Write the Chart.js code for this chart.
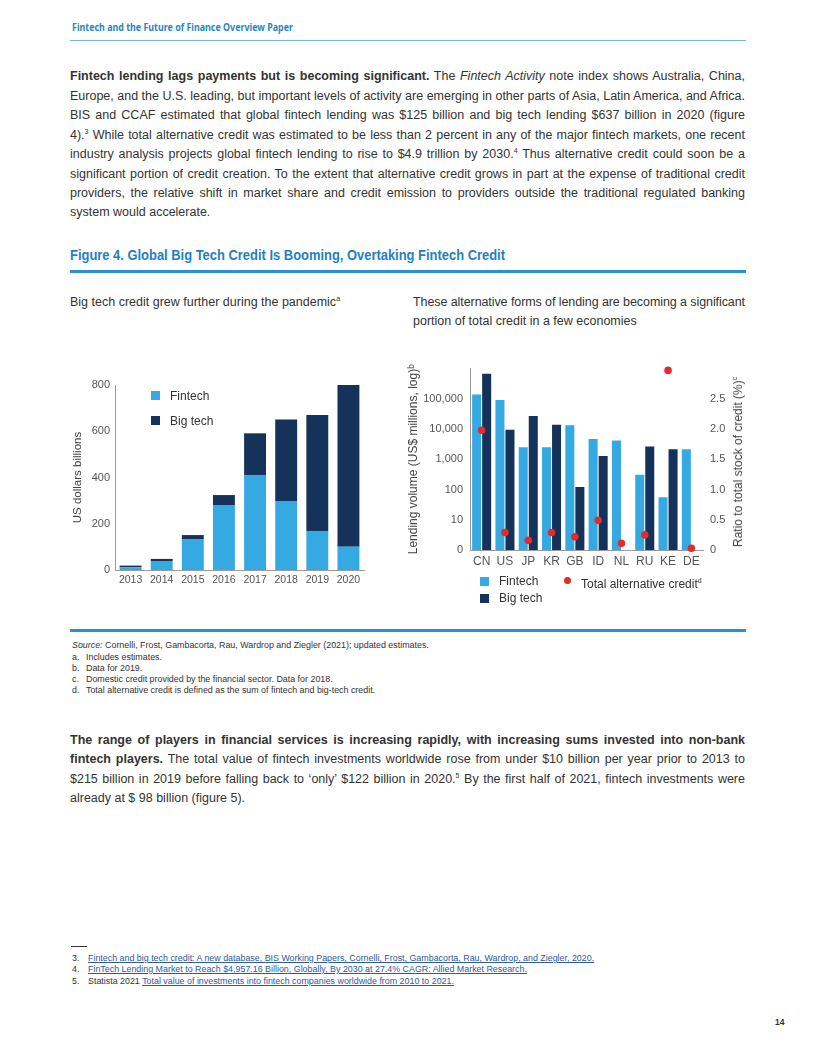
<!DOCTYPE html>
<html><head><meta charset="utf-8">
<script src="https://cdn.jsdelivr.net/npm/chart.js"></script>
<style>
html,body{margin:0;padding:0;background:#fff;}
body{width:816px;height:1056px;position:relative;overflow:hidden;font-family:"Liberation Sans",Arial,sans-serif;color:#333;}
.abs{position:absolute;white-space:nowrap;}
.ln{position:absolute;left:70px;white-space:nowrap;font-size:12.5px;line-height:19.5px;color:#333;}
.ln sup,.sub sup{font-size:7px;line-height:0;vertical-align:5px;}
.sub{position:absolute;white-space:nowrap;font-size:12.5px;line-height:19px;color:#333;}
.note{position:absolute;white-space:nowrap;font-size:8.9px;line-height:11px;color:#333;}
.note a{color:#2c5aa0;text-decoration:underline;}
.rule{position:absolute;left:70px;width:676px;}
.lg{position:absolute;white-space:nowrap;font-size:12px;line-height:14px;color:#333;}
.sq{position:absolute;width:9px;height:9px;}
canvas{position:absolute;}
</style>
</head><body>

<div class="abs" id="hdr" style="left:72px;top:19px;font:bold 11px 'Noto Sans',sans-serif;color:#2b86c5;transform-origin:left center;">Fintech and the Future of Finance Overview Paper</div>
<div class="rule" style="top:40px;height:1px;background:#7ab8e0;"></div>

<div class="ln j" style="top:67px"><span><b>Fintech lending lags payments but is becoming significant.</b> The <i>Fintech Activity</i> note index shows Australia, China,</span></div>
<div class="ln j" style="top:87px"><span>Europe, and the U.S. leading, but important levels of activity are emerging in other parts of Asia, Latin America, and Africa.</span></div>
<div class="ln j" style="top:106px"><span>BIS and CCAF estimated that global fintech lending was $125 billion and big tech lending $637 billion in 2020 (figure</span></div>
<div class="ln j" style="top:126px"><span>4).<sup>3</sup> While total alternative credit was estimated to be less than 2 percent in any of the major fintech markets, one recent</span></div>
<div class="ln j" style="top:145px"><span>industry analysis projects global fintech lending to rise to $4.9 trillion by 2030.<sup>4</sup> Thus alternative credit could soon be a</span></div>
<div class="ln j" style="top:165px"><span>significant portion of credit creation. To the extent that alternative credit grows in part at the expense of traditional credit</span></div>
<div class="ln j" style="top:184px"><span>providers, the relative shift in market share and credit emission to providers outside the traditional regulated banking</span></div>
<div class="ln" style="top:203px"><span>system would accelerate.</span></div>

<div class="abs" id="figt" style="left:70px;top:247px;font:bold 14px 'Liberation Sans',Arial,sans-serif;color:#1f80c4;transform-origin:left center;">Figure 4. Global Big Tech Credit Is Booming, Overtaking Fintech Credit</div>
<div class="rule" style="top:270px;height:3px;background:#2a90d6;"></div>

<div class="sub" style="left:70px;top:293px"><span>Big tech credit grew further during the pandemic<sup>a</sup></span></div>
<div class="sub" id="st1" style="left:413px;top:293px"><span>These alternative forms of lending are becoming a significant</span></div>
<div class="sub" style="left:413px;top:312px"><span>portion of total credit in a few economies</span></div>

<canvas id="c1" width="320" height="230" style="left:60px;top:370px;width:320px;height:230px"></canvas>
<div class="sq" style="left:151px;top:391px;background:#35a9e1"></div>
<div class="lg" style="left:170px;top:389px">Fintech</div>
<div class="sq" style="left:151px;top:416px;background:#15325a"></div>
<div class="lg" style="left:170px;top:414px">Big tech</div>

<canvas id="c2" width="350" height="220" style="left:400px;top:355px;width:350px;height:220px"></canvas>
<div class="abs" style="left:738px;top:462px;font-size:12px;color:#444;transform:translate(-50%,-50%) rotate(-90deg);">Ratio to total stock of credit (%)<sup style="font-size:7px;vertical-align:5px">c</sup></div>
<div class="sq" style="left:480px;top:577px;background:#35a9e1"></div>
<div class="lg" style="left:499px;top:574px">Fintech</div>
<div class="abs" style="left:564px;top:577px;width:7px;height:7px;border-radius:50%;background:#e32b2b"></div>
<div class="lg" style="left:581px;top:574px">Total alternative credit<sup style="font-size:7px;vertical-align:5px">d</sup></div>
<div class="sq" style="left:480px;top:594px;background:#15325a"></div>
<div class="lg" style="left:499px;top:591px">Big tech</div>

<div class="rule" style="top:629px;height:3px;background:#2a90d6;"></div>
<div class="note" style="left:72px;top:640px"><i>Source:</i> Cornelli, Frost, Gambacorta, Rau, Wardrop and Ziegler (2021); updated estimates.</div>
<div class="note" style="left:72px;top:652px">a.</div><div class="note" style="left:86px;top:652px">Includes estimates.</div>
<div class="note" style="left:72px;top:663px">b.</div><div class="note" style="left:86px;top:663px">Data for 2019.</div>
<div class="note" style="left:72px;top:674px">c.</div><div class="note" style="left:86px;top:674px">Domestic credit provided by the financial sector. Data for 2018.</div>
<div class="note" style="left:72px;top:685px">d.</div><div class="note" style="left:86px;top:685px">Total alternative credit is defined as the sum of fintech and big-tech credit.</div>

<div class="ln j" style="top:731px"><span><b>The range of players in financial services is increasing rapidly, with increasing sums invested into non-bank</b></span></div>
<div class="ln j" style="top:750px"><span><b>fintech players.</b> The total value of fintech investments worldwide rose from under $10 billion per year prior to 2013 to</span></div>
<div class="ln j" style="top:770px"><span>$215 billion in 2019 before falling back to ‘only’ $122 billion in 2020.<sup>5</sup> By the first half of 2021, fintech investments were</span></div>
<div class="ln" style="top:789px"><span>already at $ 98 billion (figure 5).</span></div>

<div class="abs" style="left:71px;top:946px;width:16px;height:1px;background:#333"></div>
<div class="note" style="left:72px;top:953px">3.</div><div class="note" style="left:88px;top:953px"><a>Fintech and big tech credit: A new database, BIS Working Papers, Cornelli, Frost, Gambacorta, Rau, Wardrop, and Ziegler, 2020.</a></div>
<div class="note" style="left:72px;top:964px">4.</div><div class="note" style="left:88px;top:964px"><a>FinTech Lending Market to Reach $4,957.16 Billion, Globally, By 2030 at 27.4% CAGR: Allied Market Research.</a></div>
<div class="note" style="left:72px;top:976px">5.</div><div class="note" style="left:88px;top:976px">Statista 2021 <a>Total value of investments into fintech companies worldwide from 2010 to 2021.</a></div>

<div class="abs" style="left:775px;top:1017px;font-size:8.5px;font-weight:bold;color:#333">14</div>

<script>
// ---- Data ----
const years = ['2013','2014','2015','2016','2017','2018','2019','2020'];
const fintechCredit = [12, 39, 134, 281, 411, 298, 169, 101];
const bigtechCredit = [7, 9, 17, 43, 180, 353, 501, 702];
const creditTicks = [0, 200, 400, 600, 800];

const countries = ['CN','US','JP','KR','GB','ID','NL','RU','KE','DE'];
const fintechLending = [138000, 91000, 2500, 2500, 13500, 4700, 4200, 310, 56, 2130];
const bigtechLending = [670000, 9500, 27000, 14000, 122, 1290, null, 2650, 2130, null];
const totalAltRatio = [1.98, 0.29, 0.16, 0.29, 0.22, 0.49, 0.11, 0.25, 2.97, 0.03];
const logTicks = [1, 10, 100, 1000, 10000, 100000, 1000000];
const ratioTicks = [0, 0.5, 1, 1.5, 2, 2.5, 3];

const LIGHT = '#35a9e1', DARK = '#15325a', RED = '#e32b2b', AXIS = '#9a9a9a', TICK = '#555';
const FONT = "'Liberation Sans', Arial, sans-serif";

new Chart(document.getElementById('c1'), {
  type: 'bar',
  data: { labels: years, datasets: [
    { label: 'Fintech', data: fintechCredit, backgroundColor: LIGHT, barPercentage: 0.8, categoryPercentage: 0.88 },
    { label: 'Big tech', data: bigtechCredit, backgroundColor: DARK, barPercentage: 0.8, categoryPercentage: 0.88 }
  ]},
  options: {
    responsive: false, animation: false,
    layout: { autoPadding: false, padding: { top: 15, right: 16, bottom: 8, left: 0 } },
    plugins: { legend: { display: false }, tooltip: { enabled: false } },
    scales: {
      x: { stacked: true, grid: { display: false, drawTicks: false }, border: { display: true, color: AXIS, width: 1 },
           ticks: { color: TICK, font: { family: FONT, size: 10.5 }, padding: 4, maxRotation: 0 },
           afterFit(s) { s.height = 22; } },
      y: { stacked: true, min: 0, max: 800, grid: { display: false, drawTicks: false }, border: { display: true, color: AXIS, width: 1 },
           afterBuildTicks(s) { s.ticks = creditTicks.map(v => ({ value: v })); },
           ticks: { color: TICK, font: { family: FONT, size: 11 }, padding: 5 },
           title: { display: true, text: 'US dollars billions', color: '#444', font: { family: FONT, size: 11.5 }, padding: { top: 11, bottom: 0 } },
           afterFit(s) { s.width = 55; } }
    }
  }
});

new Chart(document.getElementById('c2'), {
  type: 'bar',
  data: { labels: countries, datasets: [
    { label: 'Total alternative credit', type: 'line', data: totalAltRatio, yAxisID: 'y2', showLine: false,
      pointRadius: 3.8, pointBackgroundColor: RED, pointBorderWidth: 0, pointBorderColor: RED, order: 0, clip: false },
    { label: 'Fintech', data: fintechLending, backgroundColor: LIGHT, yAxisID: 'y', barPercentage: 0.9, categoryPercentage: 0.86, order: 1 },
    { label: 'Big tech', data: bigtechLending, backgroundColor: DARK, yAxisID: 'y', barPercentage: 0.9, categoryPercentage: 0.86, order: 1 }
  ]},
  options: {
    responsive: false, animation: false,
    layout: { autoPadding: false, padding: { top: 8, right: 0, bottom: 3, left: 0 } },
    plugins: { legend: { display: false }, tooltip: { enabled: false } },
    scales: {
      x: { grid: { display: false, drawTicks: false }, border: { display: true, color: AXIS, width: 1 },
           ticks: { color: TICK, font: { family: FONT, size: 12 }, padding: 4, maxRotation: 0, autoSkip: false },
           afterFit(s) { s.height = 22; } },
      y: { type: 'logarithmic', position: 'left', min: 1, max: 1000000,
           grid: { display: false, drawTicks: false }, border: { display: true, color: AXIS, width: 1 },
           afterBuildTicks(s) { s.ticks = logTicks.map(v => ({ value: v })); },
           ticks: { color: TICK, font: { family: FONT, size: 11 }, padding: 7,
                    callback(v) { if (v === 1) return '0'; if (v >= 1000000) return ''; return Number(v).toLocaleString('en-US'); } },
           title: { display: true, text: 'Lending volume (US$ millions, log)ᵇ', color: '#444', font: { family: FONT, size: 12 }, padding: { top: 6, bottom: 0 } },
           afterFit(s) { s.width = 70; } },
      y2: { position: 'right', min: 0, max: 3,
            grid: { display: false, drawTicks: false }, border: { display: false },
            afterBuildTicks(s) { s.ticks = ratioTicks.map(v => ({ value: v })); },
            ticks: { color: TICK, font: { family: FONT, size: 11 }, padding: 7,
                     callback(v) { if (v === 0) return '0'; if (v >= 3) return ''; return Number(v).toFixed(1); } },
            afterFit(s) { s.width = 47; } }
    }
  }
});

function fitLine(el, target, justify) {
  const sp = el.firstElementChild;
  let w = sp.getBoundingClientRect().width;
  const txt = sp.textContent;
  const nSp = (txt.match(/ /g) || []).length;
  if (w > target) {
    sp.style.letterSpacing = ((target - w) / txt.length) + 'px';
    w = sp.getBoundingClientRect().width;
  }
  if (justify && nSp) sp.style.wordSpacing = ((target - w) / nSp) + 'px';
}
function scaleTo(el, target) {
  const w = el.getBoundingClientRect().width;
  el.style.transform = 'scaleX(' + (target / w) + ')';
}
function doFit() {
  document.querySelectorAll('.ln').forEach(el => fitLine(el, 675, el.classList.contains('j')));
  fitLine(document.getElementById('st1'), 332, true);
  scaleTo(document.getElementById('hdr'), 221);
  scaleTo(document.getElementById('figt'), 435);
}
if (document.fonts && document.fonts.ready) document.fonts.ready.then(doFit); else doFit();
</script>
</body></html>
